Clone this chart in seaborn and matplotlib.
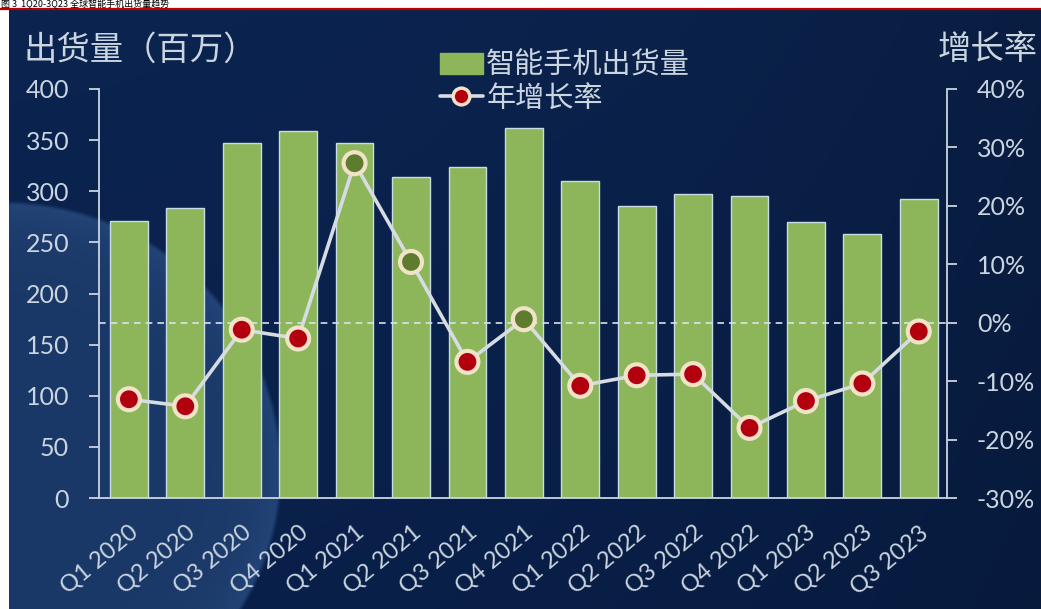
import numpy as np
import pandas as pd
import matplotlib
matplotlib.use("Agg")
import matplotlib.pyplot as plt
import seaborn as sns
from matplotlib.lines import Line2D
from matplotlib.patches import Patch

quarters = ["Q1 2020", "Q2 2020", "Q3 2020", "Q4 2020",
            "Q1 2021", "Q2 2021", "Q3 2021", "Q4 2021",
            "Q1 2022", "Q2 2022", "Q3 2022", "Q4 2022",
            "Q1 2023", "Q2 2023", "Q3 2023"]
shipments = [271, 284, 347, 359, 347, 314, 324, 362, 310, 286, 297, 295, 270, 258, 292]
growth = [-13.1, -14.3, -1.2, -2.7, 27.3, 10.4, -6.7, 0.6, -10.8, -9.0, -8.8, -18.0, -13.4, -10.4, -1.5]
left_ticks = [0, 50, 100, 150, 200, 250, 300, 350, 400]
right_ticks = [-30, -20, -10, 0, 10, 20, 30, 40]

title_text = "图 3  1Q20-3Q23 全球智能手机出货量趋势"
left_title = "出货量（百万）"
right_title = "增长率"
bar_label = "智能手机出货量"
line_label = "年增长率"

txt = "#CBD5E0"
bar_green = "#8DB65A"
bar_edge = "#C9DCE6"
red_dot = "#B3000F"
green_dot = "#5E7C2E"
dot_edge = "#F1E2C8"
line_col = "#D6DCE2"
cjk = ["Noto Sans CJK SC", "DejaVu Sans"]

df = pd.DataFrame({"quarter": quarters, "shipments": shipments,
                   "growth": growth, "pos": np.arange(len(quarters))})
df["sign"] = np.where(df["growth"] >= 0, "up", "down")

sns.set_style("white")
plt.rcParams["font.family"] = ["Lato", "Noto Sans CJK SC", "DejaVu Sans"]

W, H = 1041, 609
fig = plt.figure(figsize=(W / 100, H / 100), dpi=100)
fig.patch.set_facecolor("white")

# background panel (navy with a lighter swoosh bottom-left)
bg_ax = fig.add_axes([9 / W, 0, 1 - 9 / W, (H - 10) / H])
bg_ax.axis("off")
ph, pw = H - 10, W - 9
yy, xx = np.mgrid[0:ph, 0:pw].astype(float)
xx += 9
yy += 10
top = np.array([11, 36, 80]) / 255
bot = np.array([9, 32, 74]) / 255
t = (yy / H)[..., None]
img = top * (1 - t) + bot * t
img *= (1 - 0.18 * (xx / W)[..., None] ** 2)
e = np.sqrt((xx / 280) ** 2 + ((yy - 470) / 268) ** 2)
inside = np.clip((1 - e) * 60 + 0.5, 0, 1)[..., None]
light = np.array([26, 56, 103]) / 255
glow = np.exp(-np.clip(1 - e, 0, None) / 0.12)[..., None]
light_img = light + glow * np.array([8, 12, 16]) / 255
img = img * (1 - inside) + light_img * inside
bg_ax.imshow(np.clip(img, 0, 1), aspect="auto", extent=[0, 1, 0, 1], origin="upper")
bg_ax.set_xlim(0, 1)
bg_ax.set_ylim(0, 1)

ax = fig.add_axes([99 / W, 1 - 498 / H, (947 - 99) / W, (498 - 89) / H])
ax.set_facecolor("none")
sns.barplot(data=df, x="quarter", y="shipments", color=bar_green, width=0.67,
            edgecolor=bar_edge, linewidth=1.0, saturation=1, ax=ax, zorder=2)
ax.set_ylim(0, 400)
ax.set_xlim(-0.53, len(quarters) - 0.5)
ax.set_yticks(left_ticks)
ax.set_xlabel("")
ax.set_ylabel("")
for s in ["top", "right"]:
    ax.spines[s].set_visible(False)
for s in ["left", "bottom"]:
    ax.spines[s].set_color(txt)
    ax.spines[s].set_linewidth(1.3)
ax.tick_params(axis="y", direction="out", length=7.5, width=1.3, color=txt,
               labelcolor=txt, labelsize=18, pad=14)
ax.tick_params(axis="x", length=0, labelcolor=txt, labelsize=17, pad=17)
for lab in ax.get_xticklabels():
    lab.set_rotation(40)
    lab.set_ha("right")
    lab.set_rotation_mode("anchor")

ax2 = ax.twinx()
ax2.set_ylim(-30, 40)
ax2.axhline(0, color="#D8E2EC", lw=1.2, ls=(0, (4, 3)), zorder=1)
sns.lineplot(data=df, x="pos", y="growth", color=line_col, lw=2.6, ax=ax2, zorder=3)
sns.scatterplot(data=df, x="pos", y="growth", hue="sign",
                palette={"up": green_dot, "down": red_dot}, s=250,
                edgecolor=dot_edge, linewidth=3, legend=False, ax=ax2, zorder=4)
ax2.set_xlim(ax.get_xlim())
ax2.set_yticks(right_ticks)
ax2.set_yticklabels([f"{v}%" for v in right_ticks])
ax2.set_ylabel("")
ax2.set_xlabel("")
for s in ["top", "left", "bottom"]:
    ax2.spines[s].set_visible(False)
ax2.spines["right"].set_color(txt)
ax2.spines["right"].set_linewidth(1.3)
ax2.tick_params(axis="y", direction="out", length=7.5, width=1.3, color=txt,
                labelcolor=txt, labelsize=18, pad=14)

fig.text(24 / W, 1 - 50 / H, left_title, color=txt, fontsize=24, va="center",
         ha="left", family=cjk)
fig.text(1038 / W, 1 - 50 / H, right_title, color=txt, fontsize=24, va="center",
         ha="right", family=cjk)

handles = [Patch(facecolor=bar_green, edgecolor=bar_green),
           Line2D([], [], color=line_col, lw=2.6, marker="o", markersize=12,
                  markerfacecolor=red_dot, markeredgecolor=dot_edge, markeredgewidth=2.5)]
leg = fig.legend(handles, [bar_label, line_label], loc="upper left",
                 bbox_to_anchor=(425 / W, 1 - 36 / H), frameon=False,
                 prop={"family": cjk, "size": 21}, handlelength=1.5,
                 handletextpad=0.1, labelspacing=0.1, borderpad=0)
for tx in leg.get_texts():
    tx.set_color(txt)

fig.text(1 / W, 1 - 8.5 / H, title_text, color="black", fontsize=6.5, va="bottom",
         ha="left", family=cjk)
fig.add_artist(Line2D([0, 1], [1 - 9 / H, 1 - 9 / H], color="#C00000", lw=1.6))

fig.savefig("out.png", dpi=100)
